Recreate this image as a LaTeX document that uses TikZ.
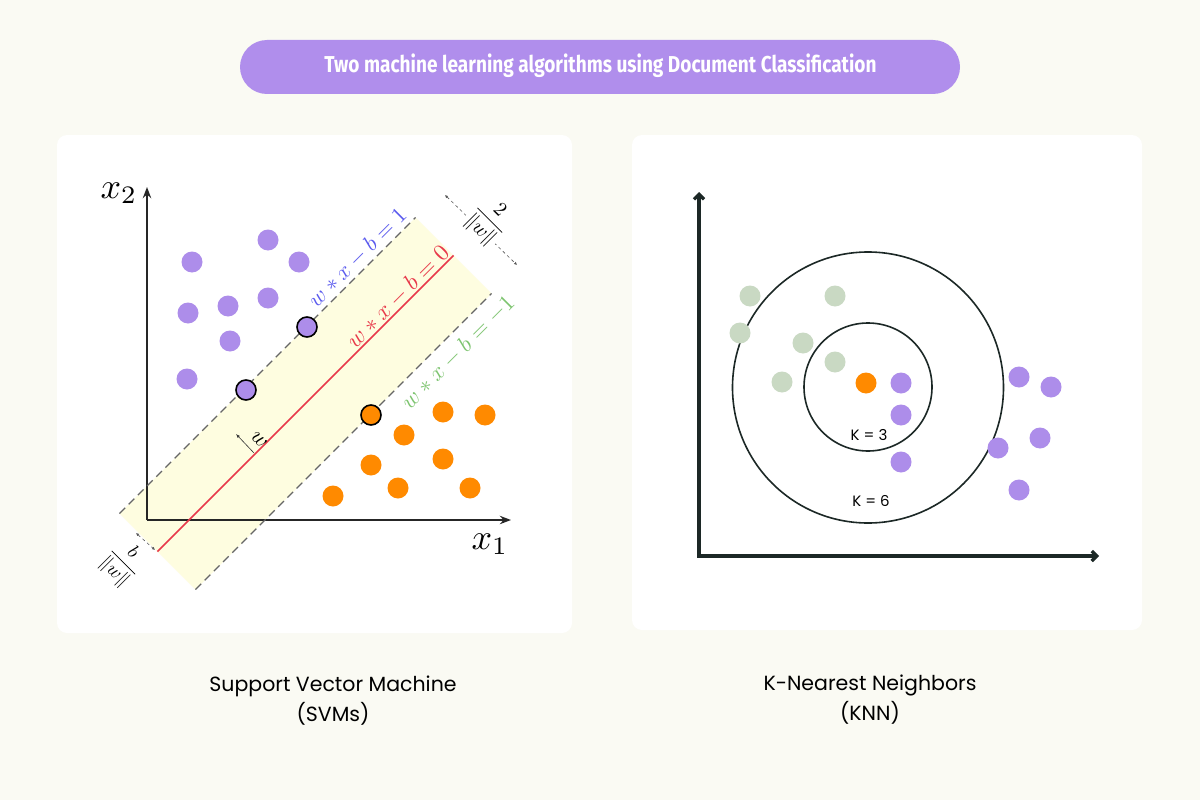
\documentclass[tikz,border=0pt]{standalone}
\usepackage{amsmath}
\usepackage{fontspec}
\usepackage{graphicx}
\usetikzlibrary{arrows.meta}
\newfontfamily\popfont{Poppins}
\newfontfamily\headfont{Fira Sans}
\definecolor{bgcream}{HTML}{FAFAF3}
\definecolor{pillpurple}{HTML}{B08EEC}
\definecolor{dotpurple}{HTML}{AD8DEA}
\definecolor{dotorange}{HTML}{FF8A00}
\definecolor{dotgreen}{HTML}{C9D9C3}
\definecolor{bandyellow}{HTML}{FEFDE0}
\definecolor{hypred}{HTML}{E8394A}
\definecolor{lblblue}{HTML}{5A5AEE}
\definecolor{lblgreen}{HTML}{7DC46F}
\definecolor{axisdark}{HTML}{1C2826}

\begin{document}
\begin{tikzpicture}[x=1pt, y=-1pt, >=Stealth,
  panel/.style={fill=white, rounded corners=10pt},
  purpdot/.style={circle, fill=dotpurple, minimum size=21pt, inner sep=0pt},
  orandot/.style={circle, fill=dotorange, minimum size=21pt, inner sep=0pt},
  greendot/.style={circle, fill=dotgreen, minimum size=21pt, inner sep=0pt},
  supvec/.style={draw=black, line width=1.6pt, minimum size=20pt},
  marginline/.style={dashed, dash pattern=on 8pt off 5pt, gray!80!black, line width=1.3pt},
  eqlabel/.style={rotate=45, inner sep=0pt},
  captext/.style={font=\popfont\fontsize{20.5}{30}\selectfont, align=center, text=black}]

  % Background and title
  \fill[bgcream] (0,0) rectangle (1200,800);
  \useasboundingbox (0,0) rectangle (1200,800);
  \fill[pillpurple, rounded corners=27pt] (240,40) rectangle (960,94);
  \node[text=white, inner sep=0pt] (title) at (600.5,66)
    {\resizebox{552pt}{\height}{\headfont\bfseries\fontsize{23}{23}\selectfont
      Two machine learning algorithms using Document Classification}};

  % Panels
  \fill[panel] (57,135) rectangle (572,633);
  \fill[panel] (632,135) rectangle (1142,630);

  % SVM: margin band
  \coordinate (ua) at (119.5,513.5);
  \coordinate (ub) at (415.5,217.5);
  \coordinate (lb) at (491.5,293.5);
  \coordinate (la) at (195.5,589.5);
  \coordinate (ra) at (157.5,551.5);
  \coordinate (rb) at (453.5,255.5);
  \fill[bandyellow] (ua) -- (ub) -- (lb) -- (la) -- cycle;

  % SVM: axes
  \coordinate (so) at (147,520);
  \coordinate (sx) at (511,520);
  \coordinate (sy) at (147,187);
  \draw[->, line width=1.8pt, black!85] (so) -- (sx);
  \draw[->, line width=1.8pt, black!85] (so) -- (sy);
  \node (x2lbl) at (119,193) {\scalebox{3.6}{$x_2$}};
  \node (x1lbl) at (490,544) {\scalebox{3.6}{$x_1$}};

  % SVM: margins and hyperplane
  \draw[marginline] (ua) -- (ub);
  \draw[marginline] (la) -- (lb);
  \draw[hypred, line width=1.6pt] (ra) -- (rb);

  \node[eqlabel, text=lblblue] (eqone) at (357.5,257.5) {\scalebox{2.25}{$w*x-b=1$}};
  \node[eqlabel, text=hypred] (eqzero) at (398,297) {\scalebox{2.35}{$w*x-b=0$}};
  \node[eqlabel, text=lblgreen] (eqmone) at (458,352) {\scalebox{2.3}{$w*x-b=-1$}};

  % Normal vector w
  \coordinate (wfoot) at (254,453);
  \coordinate (wtip) at (236,434);
  \draw[-{Latex[length=4pt,width=3pt]}, line width=0.6pt, black!80] (wfoot) -- (wtip);
  \node[rotate=-45, inner sep=0pt] (wlbl) at (259,440) {\scalebox{2.2}{$w$}};

  % Margin width 2/||w||
  \coordinate (mwa) at (445,195);
  \coordinate (mwb) at (517,265);
  \draw[{Latex[length=3pt,width=3pt]}-{Latex[length=3pt,width=3pt]}, dashed, gray!70!black, line width=0.6pt] (mwa) -- (mwb);
  \node[fill=white, inner sep=0.5pt, rotate=-45] (mwlbl) at (489,221)
    {\scalebox{2.0}{$\dfrac{2}{\|w\|}$}};

  % Offset b/||w||
  \coordinate (boa) at (136,533);
  \coordinate (bob) at (155,550);
  \draw[{Latex[length=3pt,width=3pt]}-{Latex[length=3pt,width=3pt]}, dashed, gray!70!black, line width=0.6pt] (boa) -- (bob);
  \node[inner sep=0pt, rotate=-45] (bolbl) at (123,563)
    {\scalebox{1.9}{$\dfrac{b}{\|w\|}$}};

  % SVM: points
  \foreach \px/\py [count=\i] in {192/262, 268/240, 299/262, 188/313, 228/306,
      268/298, 230/341, 187/379}
    \node[purpdot] (sp\i) at (\px,\py) {};
  \foreach \px/\py [count=\i] in {443/412, 485/415, 404/435, 371/465, 443/459,
      333/496, 398/488, 470/488}
    \node[orandot] (so\i) at (\px,\py) {};
  \node[purpdot, supvec] (sv1) at (307,327) {};
  \node[purpdot, supvec] (sv2) at (246,390) {};
  \node[orandot, supvec] (sv3) at (371,415) {};

  % KNN: axes
  \coordinate (ko) at (699,556);
  \coordinate (ky) at (699,192);
  \coordinate (kx) at (1099,556);
  \draw[{Straight Barb[length=5pt,width=10pt]}-{Straight Barb[length=5pt,width=10pt]},
    line width=3.2pt, axisdark, line join=miter] (ky) -- (ko) -- (kx);

  % KNN: neighbourhoods
  \node[draw=axisdark, line width=1.6pt, circle, minimum size=128pt, inner sep=0pt] (kthree) at (868,387) {};
  \node[draw=axisdark, line width=1.6pt, circle, minimum size=271pt, inner sep=0pt] (ksix) at (868,387.5) {};
  \node[font=\popfont\fontsize{15}{15}\selectfont] (kthreelbl) at (869,435) {K = 3};
  \node[font=\popfont\fontsize{15}{15}\selectfont] (ksixlbl) at (871,501) {K = 6};

  % KNN: points
  \foreach \px/\py [count=\i] in {750/296, 835/296, 740/333, 803/343, 835/362, 782/382}
    \node[greendot] (kg\i) at (\px,\py) {};
  \foreach \px/\py [count=\i] in {901/383, 901/415, 901/462, 1019/377, 1051/387,
      1040/438, 998/448, 1019/490}
    \node[purpdot] (kp\i) at (\px,\py) {};
  \node[orandot] (query) at (866,383) {};

  % Captions
  \node[captext] (svmcap) at (333,701) {Support Vector Machine\\(SVMs)};
  \node[captext] (knncap) at (870,700) {K-Nearest Neighbors\\(KNN)};

\end{tikzpicture}
\end{document}
